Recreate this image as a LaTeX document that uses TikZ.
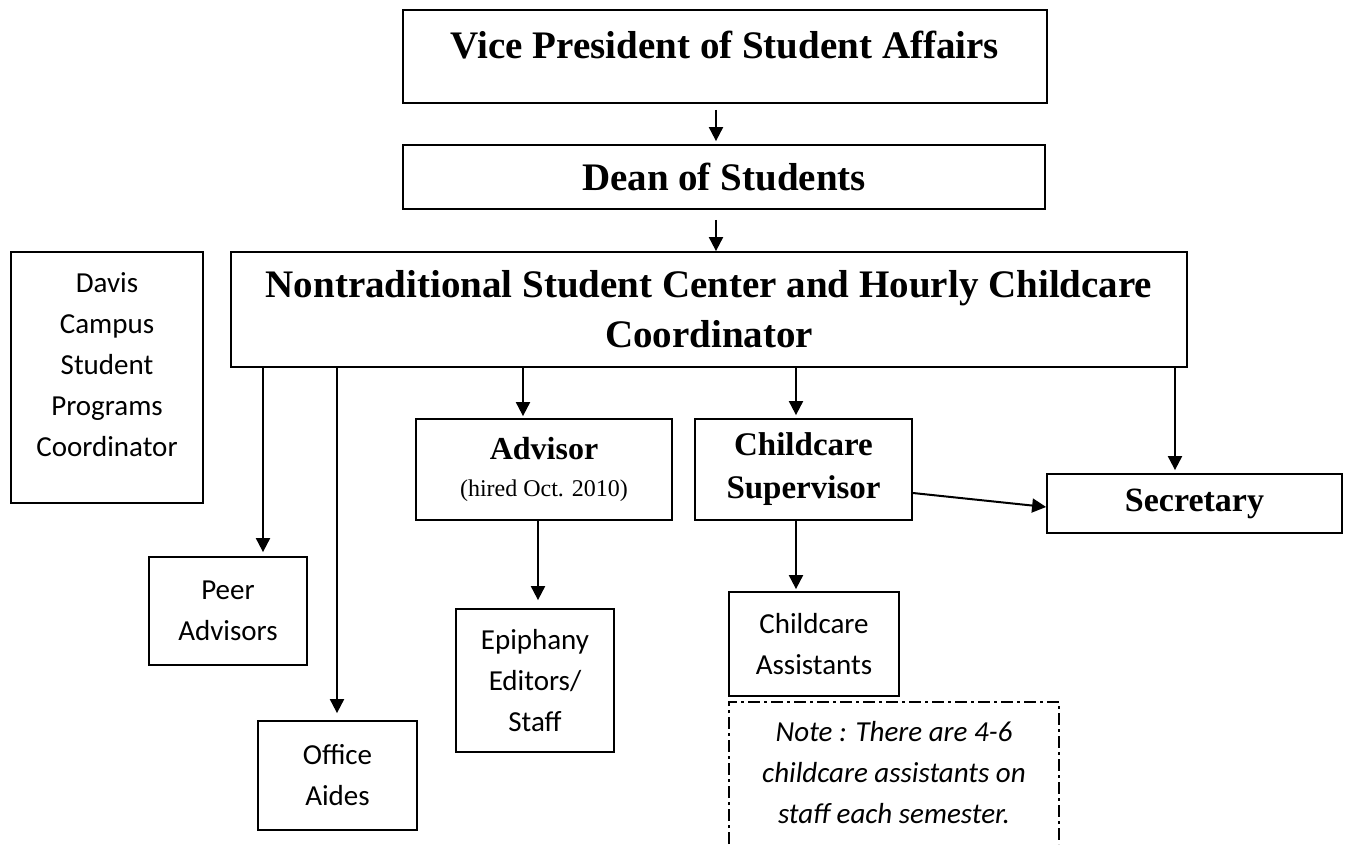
\documentclass[tikz,border=0pt]{standalone}
\usepackage{fontspec}
\setmainfont{Liberation Serif}
\newfontfamily\calib{Carlito}
\usetikzlibrary{arrows.meta}
\begin{document}
\begin{tikzpicture}[x=1pt,y=-1pt,
  box/.style={draw, line width=1.8pt, inner sep=0pt, align=center},
  headtxt/.style={font=\fontsize{39}{50}\selectfont\bfseries, align=center, inner sep=0pt},
  sanstxt/.style={font=\calib\fontsize{29}{41}\selectfont, align=center, inner sep=0pt},
  sans/.style={font=\calib\fontsize{29}{41}\selectfont},
  arr/.style={line width=2pt, -{Triangle[length=14pt,width=14pt]}},
  notebox/.style={line width=1.6pt, dash pattern=on 12pt off 4pt on 3pt off 4pt}]
\useasboundingbox (0,0) rectangle (1345,844);

% boxes
\node[box, minimum width=644pt, minimum height=93pt,
  label={[headtxt, yshift=11.5pt]center:Vice President of Student Affairs}] (vp) at (725,56.5) {};
\node[box, headtxt, minimum width=642pt, minimum height=64pt] (dean) at (724,177) {Dean of Students};
\node[box, headtxt, minimum width=956pt, minimum height=115pt] (nsc) at (709,309.5)
  {Nontraditional Student Center and Hourly Childcare\\Coordinator};
\node[box, minimum width=192pt, minimum height=251pt,
  label={[sanstxt, yshift=13pt]center:Davis\\Campus\\Student\\Programs\\Coordinator}] (davis) at (107,377.5) {};
\node[box, minimum width=256pt, minimum height=101pt, font=\fontsize{24}{37}\selectfont] (adv) at (544,469.5)
  {{\fontsize{32}{37}\selectfont\bfseries Advisor}\\(hired Oct. 2010)};
\node[box, minimum width=217pt, minimum height=101pt, font=\fontsize{33}{43}\selectfont\bfseries] (cs) at (803.5,469.5)
  {Childcare\\Supervisor};
\node[box, minimum width=295pt, minimum height=59pt, font=\fontsize{34}{40}\selectfont\bfseries] (sec) at (1194.5,503.5)
  {Secretary};
\node[box, sans, minimum width=158pt, minimum height=108pt] (peer) at (228,611) {Peer\\Advisors};
\node[box, sans, minimum width=159pt, minimum height=109pt] (office) at (337.5,775.5) {Office\\Aides};
\node[box, sans, minimum width=158pt, minimum height=143pt] (epi) at (535,680.5) {Epiphany\\Editors/\\Staff};
\node[box, sans, minimum width=170pt, minimum height=104pt] (ca) at (814,644) {Childcare\\Assistants};

% note
\node[sanstxt, font=\calib\itshape\fontsize{29}{41}\selectfont] (note) at (894,773)
  {Note : There are 4-6\\childcare assistants on\\staff each semester.};
\coordinate (nbl) at (729,844);
\coordinate (ntl) at (729,702);
\coordinate (ntr) at (1059,702);
\coordinate (nbr) at (1059,844);
\draw[notebox] (nbl) -- (ntl) -- (ntr) -- (nbr);

% arrow columns
\coordinate (xc) at (716,0);
\coordinate (xp) at (263,0);
\coordinate (xo) at (337,0);
\coordinate (xa) at (523,0);
\coordinate (xs) at (796,0);
\coordinate (xse) at (1175,0);
\coordinate (xe) at (538,0);

\draw[arr, shorten <=6pt, shorten >=3pt] (vp.south -| xc) -- (dean.north -| xc);
\draw[arr, shorten <=10pt] (dean.south -| xc) -- (nsc.north -| xc);
\draw[arr, shorten >=4pt] (nsc.south -| xp) -- (peer.north -| xp);
\draw[arr, shorten >=7pt] (nsc.south -| xo) -- (office.north -| xo);
\draw[arr, shorten >=2pt] (nsc.south -| xa) -- (adv.north -| xa);
\draw[arr, shorten >=3pt] (nsc.south -| xs) -- (cs.north -| xs);
\draw[arr, shorten >=3pt] (nsc.south -| xse) -- (sec.north -| xse);
\draw[arr, shorten >=8pt] (adv.south -| xe) -- (epi.north -| xe);
\draw[arr, shorten >=2pt] (cs.south -| xs) -- (ca.north -| xs);
\draw[arr] ([yshift=-23.5pt]cs.east) -- ([yshift=-3.5pt]sec.west);
\end{tikzpicture}
\end{document}
